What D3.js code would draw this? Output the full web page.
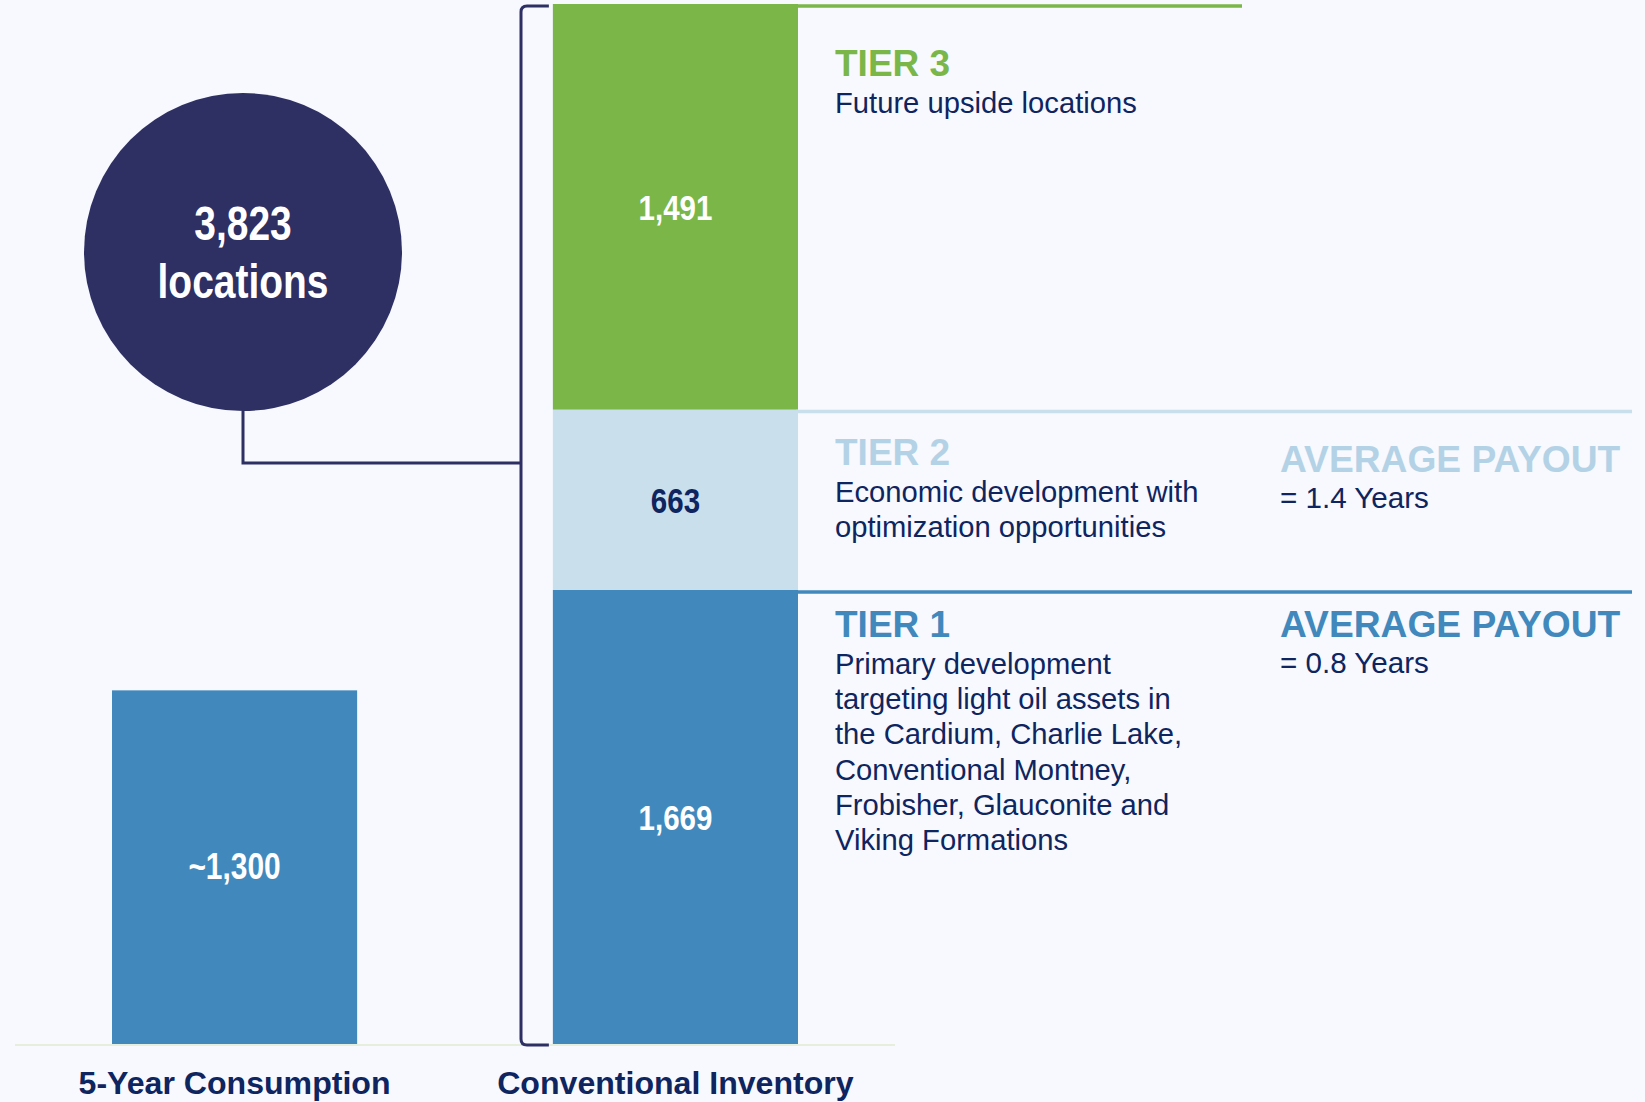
<!DOCTYPE html>
<html>
<head>
<meta charset="utf-8">
<script src="https://cdn.jsdelivr.net/npm/d3@7"></script>
<style>
  body { margin: 0; background: #f7f9fe; }
  svg { display: block; font-family: "Liberation Sans", Arial, sans-serif; }
</style>
</head>
<body>
<svg width="1645" height="1102"></svg>
<script>
// chart values
const categories = ["5-Year Consumption", "Conventional Inventory"];
const consumption = 1300;
const consumptionLabel = "~1,300";
const totalLocations = 3823;
const tiers = ["TIER 1", "TIER 2", "TIER 3"];
const tierValues = [1669, 663, 1491];
const tierColors = ["#4189bc", "#c9dfec", "#7ab648"];
const tierTitleColors = ["#4189bc", "#b4d2e6", "#7ab648"];
const tierLabelColors = ["#ffffff", "#0e2560", "#ffffff"];
const tierDescriptions = [
  ["Primary development", "targeting light oil assets in", "the Cardium, Charlie Lake,",
   "Conventional Montney,", "Frobisher, Glauconite and", "Viking Formations"],
  ["Economic development with", "optimization opportunities"],
  ["Future upside locations"]
];
const payouts = ["= 0.8 Years", "= 1.4 Years", null];

const svg = d3.select("svg");
const navy = "#2e2f63";
const textNavy = "#0e2560";
const fmt = d3.format(",");

const y = d3.scaleLinear().domain([0, totalLocations]).range([1044, 4]);
const x = d3.scaleBand().domain(categories).range([112, 798]).paddingInner(0.444);

// stacked tiers
let acc = 0;
const segs = tierValues.map((v, i) => {
  const s = { tier: tiers[i], i, y0: acc, y1: acc + v, value: v };
  acc += v;
  return s;
});

// baseline
svg.append("line")
  .attr("x1", 15).attr("x2", 895)
  .attr("y1", y(0) + 1).attr("y2", y(0) + 1)
  .attr("stroke", "#e6efdc").attr("stroke-width", 2);

// consumption bar
svg.append("rect")
  .attr("x", x(categories[0])).attr("width", x.bandwidth())
  .attr("y", y(consumption)).attr("height", y(0) - y(consumption))
  .attr("fill", "#4189bc");

function narrow(g, txt, cx, cy, size, color) {
  g.append("text")
    .attr("transform", `translate(${cx},${cy}) scale(0.82,1)`)
    .attr("text-anchor", "middle")
    .attr("font-weight", "bold")
    .attr("font-size", size)
    .attr("fill", color)
    .text(txt);
}

narrow(svg, consumptionLabel, x(categories[0]) + x.bandwidth() / 2,
  (y(consumption) + y(0)) / 2 + 12, 36.5, "#ffffff");

// inventory stack
const bx = x(categories[1]);
const bw = x.bandwidth();
svg.selectAll("rect.tier")
  .data(segs)
  .enter()
  .append("rect")
  .attr("class", "tier")
  .attr("x", bx).attr("width", bw)
  .attr("y", (d) => y(d.y1))
  .attr("height", (d) => y(d.y0) - y(d.y1))
  .attr("fill", (d) => tierColors[d.i]);

segs.forEach((d) => {
  narrow(svg, fmt(d.value), bx + bw / 2, (y(d.y0) + y(d.y1)) / 2 + 13, 36, tierLabelColors[d.i]);
});

// tier separator lines
const lineEnds = [1632, 1632, 1242];
svg.selectAll("line.sep")
  .data(segs)
  .enter()
  .append("line")
  .attr("class", "sep")
  .attr("x1", bx + bw - 2).attr("x2", (d) => lineEnds[d.i])
  .attr("y1", (d) => y(d.y1) + 2).attr("y2", (d) => y(d.y1) + 2)
  .attr("stroke", (d) => tierColors[d.i])
  .attr("stroke-width", 3.5);

// tier text
const titleOffset = [47, 55, 72];
const payoutOffset = [47, 62, 0];
const tx = 835, px = 1280;
segs.forEach((d) => {
  const top = y(d.y1);
  const ty = top + titleOffset[d.i];
  svg.append("text")
    .attr("x", tx).attr("y", ty)
    .attr("font-weight", "bold").attr("font-size", 37)
    .attr("fill", tierTitleColors[d.i])
    .text(d.tier);
  tierDescriptions[d.i].forEach((line, k) => {
    svg.append("text")
      .attr("x", tx).attr("y", ty + 37 + k * 35.2)
      .attr("font-size", 29.2)
      .attr("fill", textNavy)
      .text(line);
  });
  if (payouts[d.i]) {
    const py = top + payoutOffset[d.i];
    svg.append("text")
      .attr("x", px).attr("y", py)
      .attr("font-weight", "bold").attr("font-size", 37.2)
      .attr("fill", tierTitleColors[d.i])
      .text("AVERAGE PAYOUT");
    svg.append("text")
      .attr("x", px).attr("y", py + 36)
      .attr("font-size", 29.6)
      .attr("fill", textNavy)
      .text(payouts[d.i]);
  }
});

// bracket
const bracketX = 521, bTop = y(totalLocations) + 2, bBot = y(0) + 1, r = 6;
svg.append("path")
  .attr("d", `M${bx - 4},${bTop} L${bracketX + r},${bTop} Q${bracketX},${bTop} ${bracketX},${bTop + r}
    L${bracketX},${bBot - r} Q${bracketX},${bBot} ${bracketX + r},${bBot} L${bx - 4},${bBot}`)
  .attr("fill", "none").attr("stroke", navy).attr("stroke-width", 3);

// circle + connector
const cx = 243, cy = 252, cr = 159;
svg.append("path")
  .attr("d", `M${cx},${cy + cr} V463 H${bracketX}`)
  .attr("fill", "none").attr("stroke", navy).attr("stroke-width", 3);
svg.append("circle")
  .attr("cx", cx).attr("cy", cy).attr("r", cr)
  .attr("fill", navy);
narrow(svg, fmt(totalLocations), cx, 240, 47.5, "#ffffff");
narrow(svg, "locations", cx, 298, 47.5, "#ffffff");

// category labels
svg.selectAll("text.cat")
  .data(categories)
  .enter()
  .append("text")
  .attr("class", "cat")
  .attr("x", (d) => x(d) + x.bandwidth() / 2)
  .attr("y", 1094)
  .attr("text-anchor", "middle")
  .attr("font-weight", "bold").attr("font-size", 32.1)
  .attr("fill", textNavy)
  .text((d) => d);
</script>
</body>
</html>
